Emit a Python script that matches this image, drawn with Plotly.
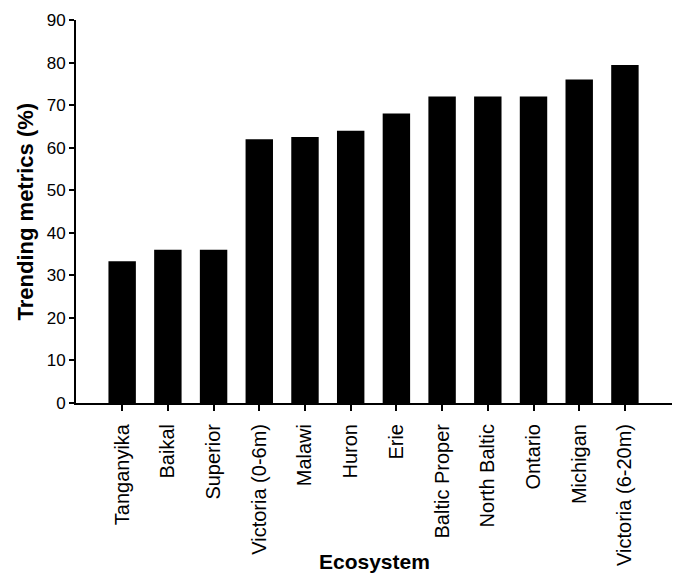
import plotly.graph_objects as go

# Share of trending metrics per ecosystem
ecosystems = [
    "Tanganyika", "Baikal", "Superior", "Victoria (0-6m)", "Malawi", "Huron",
    "Erie", "Baltic Proper", "North Baltic", "Ontario", "Michigan", "Victoria (6-20m)",
]
trending_pct = [33.3, 36.0, 36.0, 62.0, 62.5, 64.0, 68.0, 72.0, 72.0, 72.0, 76.0, 79.4]
y_ticks = [0, 10, 20, 30, 40, 50, 60, 70, 80, 90]

FONT = "Liberation Sans, Arial, Helvetica, sans-serif"

fig = go.Figure(
    go.Bar(
        x=ecosystems,
        y=trending_pct,
        width=0.6,
        marker=dict(color="black", line=dict(width=0)),
    )
)

fig.update_layout(
    width=675,
    height=573,
    margin=dict(l=76, r=3, t=20, b=170),
    paper_bgcolor="white",
    plot_bgcolor="white",
    showlegend=False,
    font=dict(family=FONT, color="black"),
    annotations=[
        dict(
            text="<b>Trending metrics (%)</b>",
            textangle=-90,
            x=-0.084, y=0.5, xref="paper", yref="paper",
            xanchor="center", yanchor="middle",
            showarrow=False,
            font=dict(family=FONT, size=22, color="black"),
        ),
        dict(
            text="<b>Ecosystem</b>",
            x=0.5, y=-0.413, xref="paper", yref="paper",
            xanchor="center", yanchor="middle",
            showarrow=False,
            font=dict(family=FONT, size=21, color="black"),
        ),
    ],
)

fig.update_xaxes(
    type="category",
    range=[-1.01, 12.03],
    showline=True, linecolor="black", linewidth=2,
    ticks="outside", ticklen=6, tickwidth=1.5, tickcolor="black",
    tickangle=-90,
    ticklabelstandoff=5,
    tickfont=dict(family=FONT, size=20, color="black"),
    showgrid=False, zeroline=False,
)

fig.update_yaxes(
    range=[0, 90],
    tickvals=y_ticks,
    showline=True, linecolor="black", linewidth=2,
    ticks="outside", ticklen=5, tickwidth=1.5, tickcolor="black",
    tickfont=dict(family=FONT, size=17, color="black"),
    showgrid=False, zeroline=False,
)

fig.write_html("out.html")
